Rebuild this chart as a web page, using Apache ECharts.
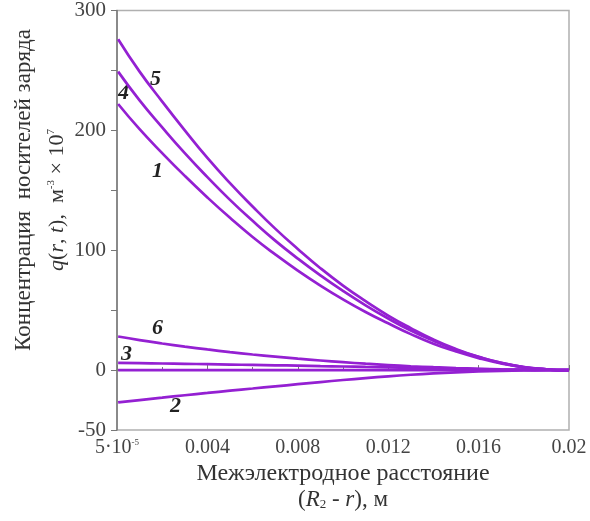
<!DOCTYPE html>
<html>
<head>
<meta charset="utf-8">
<script src="https://cdn.jsdelivr.net/npm/echarts@6/dist/echarts.min.js"></script>
<style>
  html, body { margin: 0; padding: 0; background: #fff; }
  #chart { width: 590px; height: 521px; }
</style>
</head>
<body>
<div id="chart"></div>
<script>
// межэлектродное расстояние, м
const xValues = [0.00005, 0.001, 0.002, 0.003, 0.004, 0.005, 0.006, 0.007, 0.008, 0.009, 0.010,
  0.011, 0.012, 0.013, 0.014, 0.015, 0.016, 0.017, 0.018, 0.019, 0.0195, 0.02];

// q(r, t) для кривых 1..6 (и нулевая линия)
const curve1 = [222, 201, 181, 162, 144, 127, 111, 96.5, 83, 70.5, 59, 48.5, 39, 30, 22, 15.5, 10, 5.5, 2.3, 0.6, 0, 0];
const curve2 = [-27, -25, -23, -21, -19.1, -17.2, -15.4, -13.6, -11.8, -10, -8.3, -6.7, -5.2, -3.9, -2.8, -1.9, -1.2, -0.7, -0.3, -0.1, 0, 0];
const curve3 = [6, 5.8, 5.5, 5.2, 4.9, 4.6, 4.3, 4, 3.7, 3.3, 3, 2.6, 2.2, 1.8, 1.4, 1.1, 0.8, 0.5, 0.3, 0.1, 0, 0];
const curve4 = [249, 225, 202.5, 181, 161, 142, 124.5, 108, 93, 79, 66, 54, 43, 33, 24.5, 17, 11, 6, 2.5, 0.6, 0, 0];
const curve5 = [276, 249, 224, 200, 177, 156, 136.5, 118, 101, 85, 70.5, 57.5, 45.5, 35, 25.5, 17.5, 11, 6, 2.5, 0.6, 0, 0];
const curve6 = [28, 25, 22.2, 19.6, 17.2, 15, 13, 11.2, 9.5, 8, 6.6, 5.3, 4.2, 3.2, 2.4, 1.7, 1.1, 0.6, 0.3, 0.1, 0, 0];
const curve0 = [0, 0, 0, 0, 0, 0, 0, 0, 0, 0, 0, 0, 0, 0, 0, 0, 0, 0, 0, 0, 0, 0];

const xTickLabels = { 0: "{a|5·10}{s|-5}", 0.004: "0.004", 0.008: "0.008", 0.012: "0.012", 0.016: "0.016", 0.02: "0.02" };

const lineColor = "#9420d2";
const serif = "Liberation Serif";

function makeSeries(name, values) {
  return {
    name: name,
    type: "line",
    data: xValues.map((x, i) => [x, values[i]]),
    smooth: true,
    showSymbol: false,
    lineStyle: { color: lineColor, width: 2.7 },
    z: 3,
  };
}

// подписи кривых
function curveLabel(text, x, y) {
  return {
    type: "text",
    left: x,
    top: y,
    style: { text: text, font: "italic bold 22px " + serif, fill: "#222" },
  };
}

const chart = echarts.init(document.getElementById("chart"));
chart.setOption({
  animation: false,
  grid: {
    left: 117,
    right: 21,
    top: 9,
    bottom: 91,
    show: true,
    borderColor: "#b0b0b0",
    borderWidth: 1.5,
  },
  xAxis: {
    type: "value",
    min: 0,
    max: 0.02,
    interval: 0.004,
    axisLine: { show: true, lineStyle: { color: "#777", width: 1.5 } },
    axisTick: { show: true, inside: true, length: 5, lineStyle: { color: "#777" } },
    minorTick: { show: true, splitNumber: 2, length: 3, lineStyle: { color: "#777" } },
    splitLine: { show: false },
    axisLabel: {
      margin: 8,
      formatter: (v) => xTickLabels[Math.round(v * 1000) / 1000] || "",
      color: "#444",
      fontFamily: serif,
      fontSize: 20,
      rich: {
        a: { fontFamily: serif, fontSize: 20, color: "#444" },
        s: { fontFamily: serif, fontSize: 9, color: "#444", verticalAlign: "top", padding: [0, 0, 9, 0] },
      },
    },
  },
  yAxis: {
    type: "value",
    min: -50,
    max: 300,
    interval: 50,
    axisLine: { show: true, lineStyle: { color: "#777", width: 1.5 } },
    axisTick: { show: true, length: 6, lineStyle: { color: "#777" } },
    splitLine: { show: false },
    axisLabel: {
      margin: 11,
      color: "#444",
      fontFamily: serif,
      fontSize: 21,
      formatter: (v) => (v === 150 || v === 50 || v === 250 ? "" : String(v)),
    },
  },
  series: [
    makeSeries("1", curve1),
    makeSeries("2", curve2),
    makeSeries("3", curve3),
    makeSeries("4", curve4),
    makeSeries("5", curve5),
    makeSeries("6", curve6),
    makeSeries("0", curve0),
  ],
  graphic: [
    curveLabel("5", 150, 68),
    curveLabel("4", 118, 82),
    curveLabel("1", 152, 160),
    curveLabel("6", 152, 317),
    curveLabel("3", 121, 343),
    curveLabel("2", 170, 395),
    {
      type: "text",
      x: 24,
      y: 190,
      rotation: Math.PI / 2,
      style: {
        text: "Концентрация  носителей заряда",
        font: "23px " + serif,
        fill: "#333",
        align: "center",
        verticalAlign: "middle",
      },
    },
    {
      type: "text",
      x: 57,
      y: 200,
      rotation: Math.PI / 2,
      style: {
        text: "{i|q}{a|(}{i|r}{a|, }{i|t}{a|),  м}{s|-3}{a| × 10}{s|7}",
        align: "center",
        verticalAlign: "middle",
        rich: {
          a: { font: "22px " + serif, fill: "#333" },
          i: { font: "italic 22px " + serif, fill: "#333" },
          s: { font: "11px " + serif, fill: "#333", verticalAlign: "top", padding: [0, 0, 11, 0] },
        },
      },
    },
    {
      type: "text",
      x: 343,
      y: 474,
      style: {
        text: "Межэлектродное расстояние",
        font: "24px " + serif,
        fill: "#333",
        align: "center",
        verticalAlign: "middle",
      },
    },
    {
      type: "text",
      x: 343,
      y: 500,
      style: {
        text: "{a|(}{i|R}{sub|2}{a| - }{i|r}{a|), м}",
        align: "center",
        verticalAlign: "middle",
        rich: {
          a: { font: "23px " + serif, fill: "#333" },
          i: { font: "italic 23px " + serif, fill: "#333" },
          sub: { font: "13px " + serif, fill: "#333", verticalAlign: "bottom", padding: [10, 0, 0, 0] },
        },
      },
    },
  ],
});

window.onresize = function () {
  chart.resize();
};
</script>
</body>
</html>
